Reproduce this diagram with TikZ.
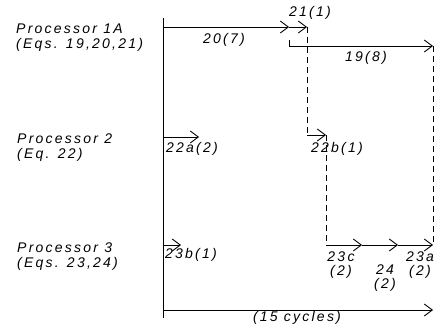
\documentclass[tikz,border=0pt]{standalone}
\usepackage{fontspec}
\setmainfont{Liberation Sans}[LetterSpace=16]
\usetikzlibrary{arrows.meta, positioning}
\tikzset{
  task/.style = {-{Straight Barb[length=8pt,width=12pt]}, line width=0.9pt},
  link/.style = {line width=0.9pt, dash pattern=on 6pt off 4pt},
  proc/.style = {font=\fontsize{14}{15}\selectfont\itshape,
                 align=left, anchor=west, inner sep=0pt},
  dur/.style  = {font=\fontsize{14}{14.5}\selectfont\itshape,
                 align=center, inner sep=0pt},
}

\begin{document}
\begin{tikzpicture}[x=1pt, y=-1pt]
  \useasboundingbox (0,0) rectangle (435,329);

  % time axis
  \coordinate (top) at (163,18);
  \coordinate (bot) at (163,318);
  \draw[line width=0.9pt] (top) -- (bot);

  % processors
  \node[proc] (p1) at (16,38)  {Processor 1A\\(Eqs. 19,20,21)};
  \node[proc] (p2) at (17,148) {Processor 2\\(Eq. 22)};
  \node[proc] (p3) at (17,257) {Processor 3\\(Eqs. 23,24)};

  % Row 1 : processor 1A
  \coordinate (a0) at (163,27);
  \coordinate (a1) at (289,27);
  \coordinate (a2) at (307,27);
  \coordinate (b0) at (289,46);
  \coordinate (b1) at (433,46);
  \draw[task] (a0) -- (a1);
  \draw[task] (a1) -- (a2);
  \draw[line width=0.9pt] (289,40) -- (b0);
  \draw[task] (b0) -- (b1);
  \node[dur] (l20) at (224,40) {20(7)};
  \node[dur] (l21) at (310,13) {21(1)};
  \node[dur] (l19) at (366,58) {19(8)};

  % Row 2 : processor 2
  \coordinate (e0) at (163,137);
  \coordinate (e1) at (199,137);
  \coordinate (c0) at (307,135);
  \coordinate (c1) at (326,135);
  \draw[task] (e0) -- (e1);
  \draw[link] (a2) -- (c0);
  \draw[task] (c0) -- (c1);
  \node[dur] (l22a) at (192,149) {22a(2)};
  \node[dur] (l22b) at (337,149) {22b(1)};

  % Row 3 : processor 3
  \coordinate (f0) at (163,245);
  \coordinate (f1) at (181,245);
  \coordinate (d0) at (326,245);
  \coordinate (d1) at (362,245);
  \coordinate (d2) at (398,245);
  \coordinate (d3) at (433,245);
  \draw[task] (f0) -- (f1);
  \draw[link] (c1) -- (d0);
  \draw[link] (b1) -- (d3);
  \draw[task] (d0) -- (d1);
  \draw[task] (d1) -- (d2);
  \draw[task] (d2) -- (d3);
  \node[dur] (l23b) at (191,255) {23b(1)};
  \node[dur] (l23c) at (341,265) {23c\\(2)};
  \node[dur] (l24)  at (385,278) {24\\(2)};
  \node[dur] (l23a) at (420,265) {23a\\(2)};

  % total
  \coordinate (g0) at (163,310);
  \coordinate (g1) at (433,310);
  \draw[task] (g0) -- (g1);
  \node[dur] (ltot) at (297,318) {(15 cycles)};
\end{tikzpicture}
\end{document}
